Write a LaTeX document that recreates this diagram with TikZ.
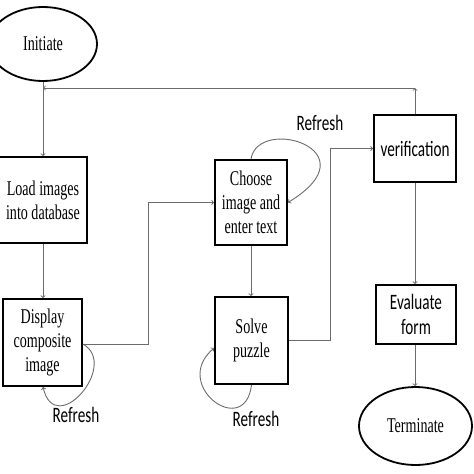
\documentclass[tikz,border=0pt]{standalone}
\usepackage{fontspec}
\setmainfont{Liberation Serif}[FakeStretch=0.67]
\newfontfamily\calib{Carlito}[FakeStretch=0.69]
\usepackage{tikz}
\usetikzlibrary{positioning}
\usetikzlibrary{arrows, shapes}

\begin{document}
\begin{tikzpicture}[x=1pt, y=-1pt]

 \tikzset{stepbox/.style={
 		draw, line width=1.8pt,
 		minimum width=#1,
 		align=center,
 		inner sep=0pt,
 		font=\fontsize{21}{24}\selectfont
 	},
 	stepbox/.default=80pt,
 	endpoint/.style={
 		draw, ellipse, line width=1.8pt,
 		inner sep=0pt,
 		font=\fontsize{21}{24}\selectfont
 	},
 	flow/.style={draw=black!58, line width=0.9pt, ->, >=to},
 	sanslabel/.style={font=\calib\fontsize{22}{25}\selectfont}
 }
 \useasboundingbox (0,0) rectangle (474,474);

 % left column
 \node[endpoint, minimum width=108pt, minimum height=74pt] (init) at (43,44) {Initiate};
 \node[stepbox=88pt, minimum height=86pt] (load) at (43,200) {Load images\\into database};
 \node[stepbox=79pt, minimum height=87pt] (disp) at (42.5,342.5) {Display\\composite\\image};
 % middle column
 \node[stepbox=72pt, minimum height=85pt] (choose) at (251,202.5) {Choose\\image and\\enter text};
 \node[stepbox=73pt, minimum height=87pt] (solve) at (251.5,340.5) {Solve\\puzzle};
 % right column
 \node[stepbox=82pt, minimum height=67pt, sanslabel] (verif) at (415,148.5) {verification};
 \node[stepbox=80pt, minimum height=59pt, sanslabel] (eval) at (416,314.5) {Evaluate\\form};
 \node[endpoint, minimum width=113pt, minimum height=78pt] (term) at (415.5,426) {Terminate};

 \coordinate (back) at (415,88);
 \coordinate (upA) at (148,344);
 \coordinate (upB) at (330,340);

 \draw[flow] (init.south -| load.north) -- (load.north);
 \draw[flow] (load.south) -- (disp.north -| load.south);
 \draw[flow] (disp.east |- upA) -- (upA) |- (choose.west);
 \draw[flow] (choose.south) -- (solve.north -| choose.south);
 \draw[flow] (solve.east |- upB) -- (upB) |- (verif.west);
 \draw[flow] (verif.north) -- (back);
 \draw[flow] (back) -- (back -| init.south);
 \draw[flow] (verif.south) -- (eval.north -| verif.south);
 \draw[flow] (eval.south -| verif.south) -- (term.north -| verif.south);

 % refresh loops
 \draw[flow] (disp.east |- upA) .. controls (120,365) and (55,440) .. (disp.south -| load.south);
 \node[sanslabel] (r1) at (76,415) {Refresh};
 \draw[flow] (choose.north) .. controls (258,115) and (375,150) .. (choose.east);
 \node[sanslabel] (r2) at (320,123) {Refresh};
 \draw[flow] (solve.south) .. controls (245,440) and (170,385) .. (solve.west |- 0,348);
 \node[sanslabel] (r3) at (256,419) {Refresh};

\end{tikzpicture}
\end{document}
